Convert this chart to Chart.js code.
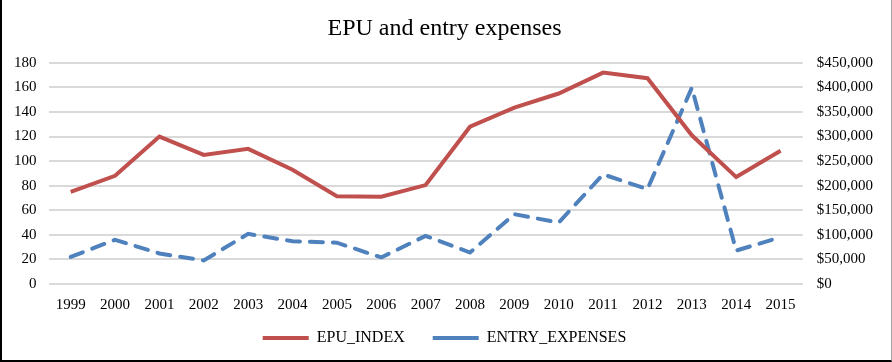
<!DOCTYPE html>
<html>
<head>
<meta charset="utf-8">
<script src="https://cdn.jsdelivr.net/npm/chart.js@4"></script>
<style>
    html, body {
        margin: 0;
        padding: 0;
        background: #ffffff;
    }

    .chart-box {
        position: relative;
        width: 892px;
        height: 362px;
        box-sizing: border-box;
        border-left: 2px solid #000000;
        border-right: 1px solid #a6a6a6;
        border-bottom: 2px solid #000000;
    }
</style>
</head>
<body>
<div class="chart-box">
    <canvas id="epu_chart"></canvas>
</div>
<script>
const YEARS = ["1999", "2000", "2001", "2002", "2003", "2004", "2005", "2006", "2007",
    "2008", "2009", "2010", "2011", "2012", "2013", "2014", "2015"];

const EPU_INDEX = [75, 88, 120, 105, 110, 93, 71.5, 71, 80.5,
    128, 143.5, 155, 172, 167.5, 121, 87, 108.5];

const ENTRY_EXPENSES = [55000, 90000, 62000, 48000, 102000, 87000, 84000, 54000, 98000,
    64000, 142000, 125000, 223000, 193000, 399000, 68000, 95000];

const FONT = "'Liberation Serif', 'Times New Roman', serif";

function formatDollars(value) {
    return "$" + value.toLocaleString("en-US");
}

new Chart(document.getElementById("epu_chart"), {
    type: "line",

    data: {
        labels: YEARS,
        datasets: [
            {
                label: "EPU_INDEX",
                data: EPU_INDEX,
                yAxisID: "y",
                borderColor: "#c0504d",
                backgroundColor: "#c0504d",
                borderWidth: 4,
                pointRadius: 0,
                tension: 0,
                fill: false
            },
            {
                label: "ENTRY_EXPENSES",
                data: ENTRY_EXPENSES,
                yAxisID: "y1",
                borderColor: "#4f81bd",
                backgroundColor: "#4f81bd",
                borderWidth: 4,
                borderDash: [13, 10],
                borderCapStyle: "round",
                pointRadius: 0,
                tension: 0,
                fill: false
            }
        ]
    },

    options: {
        responsive: true,
        maintainAspectRatio: false,
        animation: false,

        layout: {
            padding: {
                top: 8,
                right: 4,
                left: 0,
                bottom: 4
            }
        },

        scales: {
            x: {
                offset: true,
                grid: {
                    display: false
                },
                border: {
                    display: false
                },
                ticks: {
                    color: "#000000",
                    padding: 4,
                    maxRotation: 0,
                    font: {
                        family: FONT,
                        size: 15
                    }
                }
            },

            y: {
                position: "left",
                min: 0,
                max: 180,
                ticks: {
                    stepSize: 20,
                    color: "#000000",
                    padding: 12,
                    font: {
                        family: FONT,
                        size: 15
                    }
                },
                grid: {
                    color: "#d9d9d9",
                    lineWidth: 2,
                    drawTicks: false
                },
                border: {
                    display: false
                }
            },

            y1: {
                position: "right",
                min: 0,
                max: 450000,
                ticks: {
                    stepSize: 50000,
                    color: "#000000",
                    padding: 14,
                    font: {
                        family: FONT,
                        size: 15
                    },
                    callback: function (value) {
                        return formatDollars(value);
                    }
                },
                grid: {
                    display: false,
                    drawTicks: false
                },
                border: {
                    display: false
                }
            }
        },

        plugins: {
            title: {
                display: true,
                text: "EPU and entry expenses",
                color: "#000000",
                padding: {
                    top: 6,
                    bottom: 20
                },
                font: {
                    family: FONT,
                    size: 24,
                    weight: "normal"
                }
            },

            legend: {
                position: "bottom",
                labels: {
                    usePointStyle: true,
                    pointStyle: "line",
                    pointStyleWidth: 46,
                    color: "#000000",
                    padding: 12,
                    font: {
                        family: FONT,
                        size: 16
                    },
                    // wider gap between the two entries, same vertical padding
                    generateLabels: function (chart) {
                        const items = Chart.defaults.plugins.legend.labels.generateLabels(chart);
                        items.forEach(function (item, i) {
                            if (i < items.length - 1) {
                                item.text = item.text + "\u2003";
                            }
                        });
                        return items;
                    }
                }
            },

            tooltip: {
                enabled: false
            }
        }
    }
});
</script>
</body>
</html>
